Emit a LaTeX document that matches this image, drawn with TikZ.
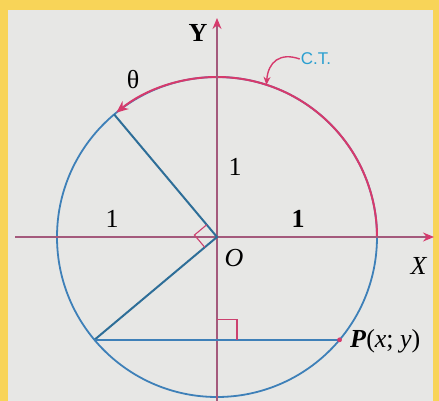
\documentclass[tikz,border=0pt]{standalone}
\usepackage{fontspec}
\setmainfont{Liberation Serif}
\newfontfamily\ctfont{Liberation Sans}
\usetikzlibrary{arrows.meta,calc}
\definecolor{bgc}{HTML}{E7E7E5}
\definecolor{framec}{HTML}{F8D458}
\definecolor{circc}{HTML}{3E80B8}
\definecolor{segc}{HTML}{2E6E98}
\definecolor{arcred}{HTML}{D63A6C}
\definecolor{axisc}{HTML}{A45A7C}
\definecolor{ctblue}{HTML}{2A9FD0}
\begin{document}
\begin{tikzpicture}[x=1pt,y=-1pt,
  lbl/.style={font=\fontsize{26}{30}\selectfont, inner sep=0pt},
  axisline/.style={axisc, line width=1.6pt, -{Stealth[length=11pt,width=9pt,color=arcred]}},
  seg/.style={segc, line width=2pt},
  rmark/.style={arcred!80!axisc, line width=1.1pt}]
\fill[framec] (0,0) rectangle (439,401);
\fill[bgc] (8,10) rectangle (433,401);
\useasboundingbox (0,0) rectangle (439,401);
\coordinate (O) at (217,237);
\coordinate (A) at ($(O)+(130:160pt)$);
\coordinate (B) at ($(O)+(220:160pt)$);
\coordinate (P) at ($(O)+(-40:160pt)$);
\coordinate (F) at ($(B)!0.5!(P)$);
\coordinate (R) at ($(O)+(0:160pt)$);
\coordinate (T) at ($(O)+(72:160pt)$);
\coordinate (xs) at (15,237);
\coordinate (xe) at (434,237);
\coordinate (ys) at (217,401);
\coordinate (ye) at (217,18);
% circle
\draw[circc, line width=1.8pt] (O) circle (160pt);
% red arc
\draw[arcred, line width=2pt, -{Stealth[length=12pt,width=10pt]}] (R) arc[start angle=0, end angle=129, radius=160pt];
% axes
\draw[axisline] (xs) -- (xe);
\draw[axisline] (ys) -- (ye);
% segments
\draw[seg] (A) -- (O) -- (B);
\draw[circc, line width=2pt] (B) -- (P);
% right angle marks
\draw[rmark] ($(O)+(130:16pt)$) -- ++(220:16pt) -- ($(O)+(220:16pt)$);
\draw[rmark] (F) ++(0,-20) -- ++(20,0) -- ++(0,20);
\fill[arcred] (P) circle (2.4pt);
% C.T.
\node[inner sep=1pt, text=ctblue, font=\ctfont\fontsize{17}{19}\selectfont] (ct) at (316,59) {C.T.};
\draw[arcred, line width=1.4pt, -{Stealth[length=8pt,width=7pt]}] (ct.west) .. controls (280,52) and (268,62) .. (T);
% labels
\node[lbl] (ylab) at (198,33) {\textbf{Y}};
\node[lbl] (xlab) at (419,266) {\textit{X}};
\node[lbl] (olab) at (234,258) {\textit{O}};
\node[lbl] (th) at (133,80) {θ};
\node[lbl] (one1) at (235,167) {1};
\node[lbl] (one2) at (112,219) {1};
\node[lbl] (one3) at (298,219) {\textbf{1}};
\node[lbl, anchor=west] (plab) at (350,341) {\textbf{\textit{P}}(\textit{x}; \textit{y})};
\end{tikzpicture}
\end{document}
